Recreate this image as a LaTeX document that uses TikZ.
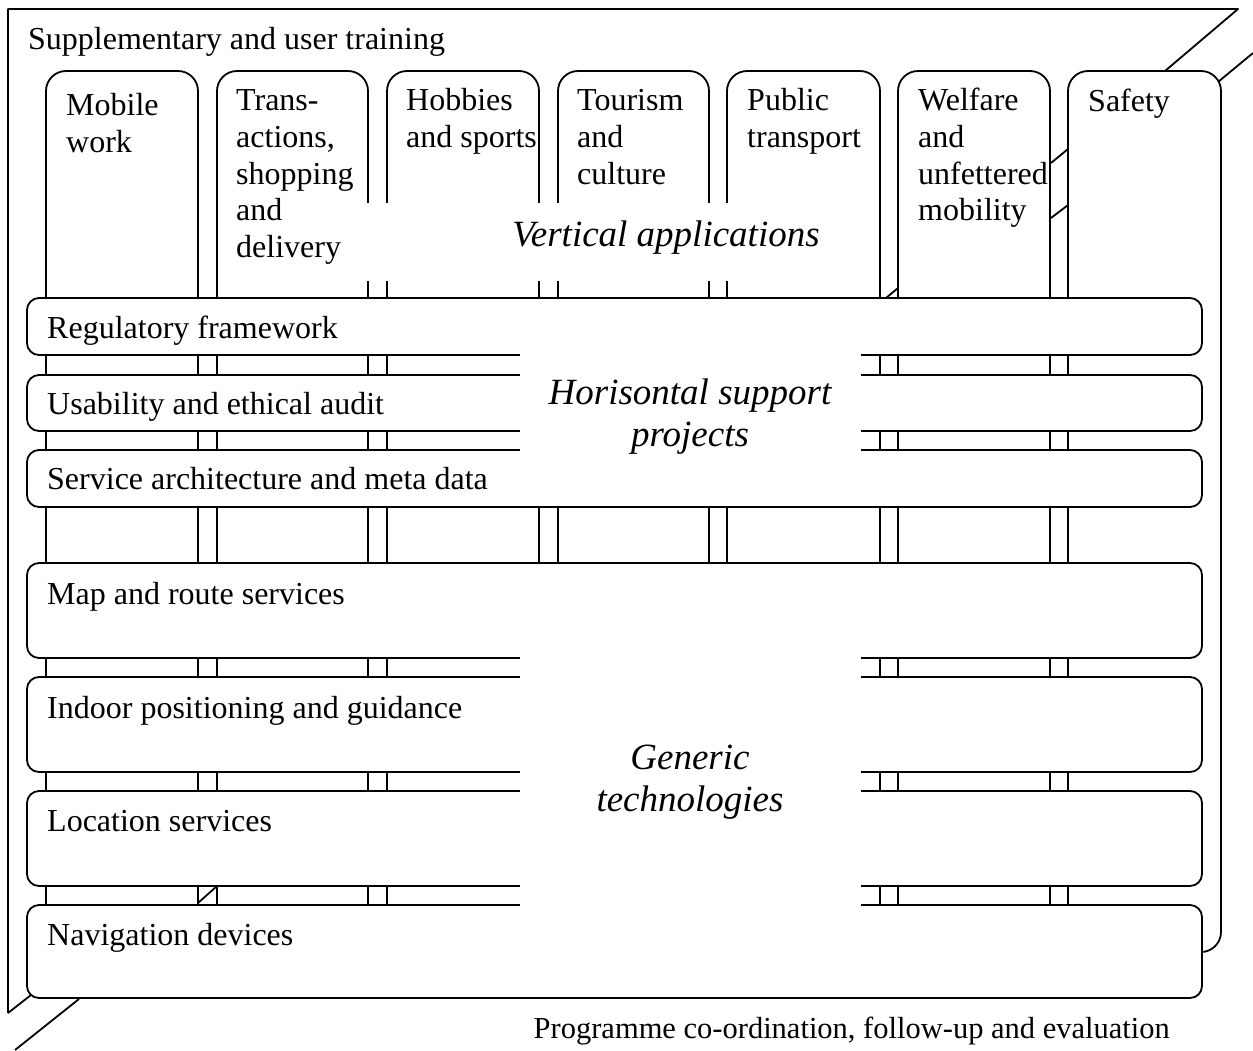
\documentclass[tikz,border=0pt]{standalone}
\usepackage{fontspec}
\setmainfont{Liberation Serif}
\begin{document}
\begin{tikzpicture}[x=1pt,y=-1pt,
  ln/.style={line width=1.8pt, line join=round},
  column/.style={ln, draw, fill=white, rounded corners=20pt, inner sep=0pt, outer sep=0pt,
    anchor=north west, minimum height=881pt, minimum width=#1},
  bar/.style={ln, draw, fill=white, rounded corners=12pt, inner sep=0pt, outer sep=0pt,
    anchor=north west, minimum width=1175pt, minimum height=#1},
  txt/.style={inner sep=0pt, font=\fontsize{32}{36.6}\selectfont},
  coltext/.style={txt, anchor=north west, align=left},
  bartext/.style={txt, anchor=base west},
  biglabel/.style={inner sep=0pt, align=center, font=\fontsize{37}{42}\selectfont\itshape},
  mask/.style={fill=white}
]
\useasboundingbox (0,0) rectangle (1253,1050);

% outer frame with its depth edges
\draw[ln] (8,1013) -- (8,9) -- (1238,9) -- (1165,71);
\draw[ln] (8,1013) -- (31,995);
\draw[ln] (79,999) -- (15,1050);
\draw[ln] (1253,53) -- (1218,82);

% vertical application columns
\node[column=152pt] (mobile)  at (46,71) {};
\node[column=151pt] (trans)   at (217,71) {};
\node[column=152pt] (hobbies) at (387,71) {};
\node[column=151pt] (tourism) at (558,71) {};
\node[column=153pt] (public)  at (727,71) {};
\node[column=152pt] (welfare) at (898,71) {};
\node[column=153pt] (safety)  at (1068,71) {};

\node[coltext] (mobileT)  at (66,90)   {\strut Mobile\\work};
\node[coltext] (transT)   at (236,85)  {\strut Trans-\\actions,\\shopping\\and\\delivery};
\node[coltext] (hobbiesT) at (406,85)  {\strut Hobbies\\and sports};
\node[coltext] (tourismT) at (577,85)  {\strut Tourism\\and\\culture};
\node[coltext] (publicT)  at (747,85)  {\strut Public\\transport};
\node[coltext] (welfareT) at (918,85)  {\strut Welfare\\and\\unfettered\\mobility};
\node[coltext] (safetyT)  at (1088,86) {\strut Safety};

% small depth ticks between columns
\draw[ln] (1051,163) -- (1068,149);
\draw[ln] (1051,218) -- (1068,205);

\fill[mask] (360,203) rectangle (866,281);
\node[biglabel] (vertical) at (666,238) {Vertical applications};

% horizontal bars
\node[bar=57pt] (reg)    at (27,298) {};
\node[bar=56pt] (usab)   at (27,375) {};
\node[bar=57pt] (serv)   at (27,450) {};
\node[bar=95pt] (map)    at (27,563) {};
\node[bar=95pt] (indoor) at (27,677) {};
\node[bar=95pt] (loc)    at (27,791) {};
\node[bar=93pt] (nav)    at (27,905) {};

\draw[ln] (886,298) -- (898,288);
\draw[ln] (198,903) -- (217,886);

\node[bartext] (regT)    at (47,338) {Regulatory framework};
\node[bartext] (usabT)   at (47,414) {Usability and ethical audit};
\node[bartext] (servT)   at (47,489) {Service architecture and meta data};
\node[bartext] (mapT)    at (47,604) {Map and route services};
\node[bartext] (indoorT) at (47,718) {Indoor positioning and guidance};
\node[bartext] (locT)    at (47,831) {Location services};
\node[bartext] (navT)    at (47,945) {Navigation devices};

\fill[mask] (520,352) rectangle (861,453);
\node[biglabel] (horisontal) at (690,417) {Horisontal support\\projects};
\fill[mask] (520,655) rectangle (861,908);
\node[biglabel] (generic) at (690,782) {Generic\\technologies};

% frame captions
\node[txt, anchor=base west] (supp) at (28,49) {Supplementary and user training};
\node[txt, anchor=base east, font=\fontsize{30.5}{35}\selectfont] (prog) at (1170,1038) {Programme co-ordination, follow-up and evaluation};
\end{tikzpicture}
\end{document}
